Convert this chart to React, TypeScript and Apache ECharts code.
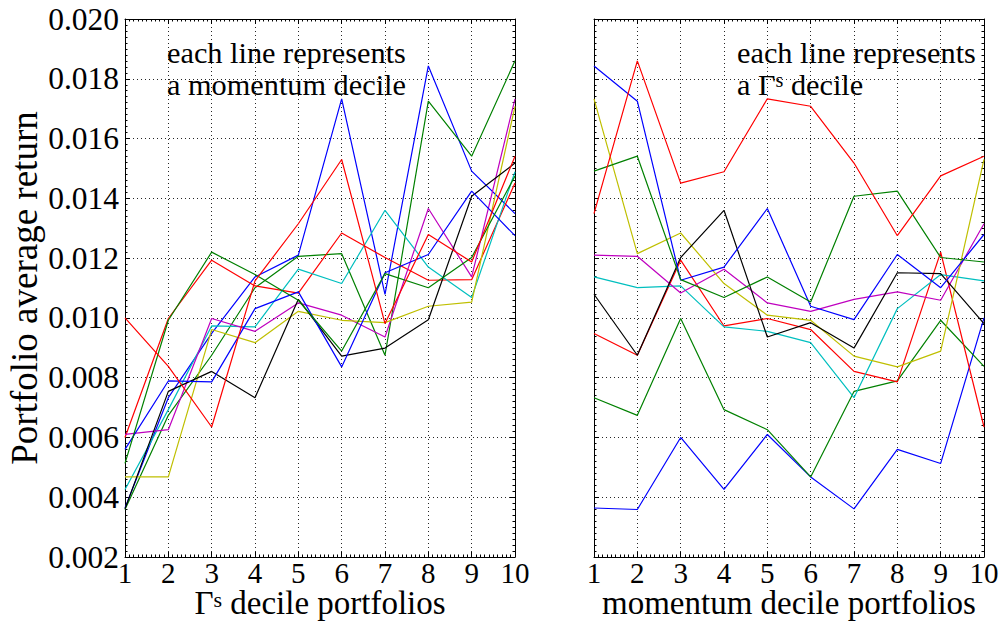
import React, { useEffect, useRef } from "react";
import * as echarts from "echarts";

// x positions (decile numbers)
const deciles = [1, 2, 3, 4, 5, 6, 7, 8, 9, 10];

// Portfolio average return; one array per momentum decile, values across the 10 Γs deciles
const mom1 = [0.00364, 0.00733, 0.00948, 0.01137, 0.0121, 0.01733, 0.01079, 0.01843, 0.01491, 0.01349];
const mom2 = [0.00359, 0.00674, 0.00875, 0.01101, 0.01206, 0.01215, 0.00875, 0.01725, 0.01541, 0.0186];
const mom3 = [0.006, 0.00998, 0.01193, 0.01107, 0.01083, 0.01284, 0.01202, 0.01126, 0.01128, 0.01451];
const mom4 = [0.00426, 0.00693, 0.00973, 0.0097, 0.01163, 0.01115, 0.0136, 0.0117, 0.01068, 0.01489];
const mom5 = [0.0061, 0.00626, 0.00998, 0.00955, 0.0105, 0.01009, 0.00936, 0.01366, 0.01137, 0.01733];
const mom6 = [0.00468, 0.00468, 0.00961, 0.00917, 0.01022, 0.00992, 0.00984, 0.01039, 0.01053, 0.01708];
const mom7 = [0.00361, 0.00754, 0.00821, 0.00733, 0.01062, 0.00872, 0.00899, 0.00994, 0.01407, 0.01518];
const mom8 = [0.0056, 0.00789, 0.00786, 0.01031, 0.01087, 0.00836, 0.01151, 0.01212, 0.01424, 0.01275];
const mom9 = [0.00513, 0.00992, 0.0122, 0.01145, 0.01059, 0.00889, 0.01148, 0.01101, 0.01202, 0.01475];
const mom10 = [0.01, 0.00838, 0.00635, 0.01124, 0.01315, 0.0153, 0.00981, 0.01279, 0.01187, 0.01541];
const momentumRows = [mom1, mom2, mom3, mom4, mom5, mom6, mom7, mom8, mom9, mom10];

// matplotlib classic colour cycle b g r c m y k
const lineColors = ["#0000ff", "#008000", "#ff0000", "#00bfbf", "#bf00bf", "#bfbf00", "#000000", "#0000ff", "#008000", "#ff0000"];

const yMin = 0.002;
const yMax = 0.02;
const yStep = 0.002;

const FONT = '"Liberation Serif", "DejaVu Serif", serif';

export default function App() {
  const ref = useRef<HTMLDivElement>(null);

  useEffect(() => {
    const chart = echarts.init(ref.current!, null, { renderer: "svg" });

    const gridLine = { color: "#000", type: [1, 3] as any, width: 1, opacity: 0.85 };
    const tickStyle = { color: "#000", width: 1 };

    const makeX = (gridIndex: number, position: string, main: boolean, name: string, rich?: any) => ({
      type: "value",
      gridIndex,
      position,
      min: 1,
      max: 10,
      interval: 1,
      axisLine: { show: true, onZero: false, lineStyle: { color: "#000", width: 1 } },
      axisTick: { show: true, inside: true, length: 5, lineStyle: tickStyle },
      minorTick: { show: true, splitNumber: 10, length: 2.5, lineStyle: tickStyle },
      axisLabel: { show: main, color: "#000", fontFamily: FONT, fontSize: 29, margin: 2, lineHeight: 27 },
      splitLine: { show: main, lineStyle: gridLine },
      name: main ? name : "",
      nameLocation: "middle",
      nameGap: 31,
      nameMoveOverlap: false,
      nameTextStyle: { color: "#000", fontFamily: FONT, fontSize: 33, lineHeight: 30, rich },
    });

    const makeY = (gridIndex: number, position: string, main: boolean, labels: boolean, name: string) => ({
      type: "value",
      gridIndex,
      position,
      min: yMin,
      max: yMax,
      interval: yStep,
      axisLine: { show: true, onZero: false, lineStyle: { color: "#000", width: 1 } },
      axisTick: { show: true, inside: true, length: 5, lineStyle: tickStyle },
      minorTick: { show: true, splitNumber: 10, length: 2.5, lineStyle: tickStyle },
      axisLabel: {
        show: labels,
        color: "#000",
        fontFamily: FONT,
        fontSize: 31.5,
        margin: 6,
        formatter: (v: number) => v.toFixed(3),
      },
      splitLine: { show: main, lineStyle: gridLine },
      name,
      nameLocation: "middle",
      nameGap: 82,
      nameRotate: 90,
      nameMoveOverlap: false,
      nameTextStyle: { color: "#000", fontFamily: FONT, fontSize: 37 },
    });

    const supRich = {
      sup: { fontFamily: FONT, fontSize: 22, color: "#000", verticalAlign: "top", lineHeight: 20 },
    };

    const series: any[] = [];
    momentumRows.forEach((row, i) => {
      series.push({
        type: "line",
        xAxisIndex: 0,
        yAxisIndex: 0,
        data: deciles.map((d, j) => [d, row[j]]),
        symbol: "none",
        lineStyle: { width: 1.2, color: lineColors[i] },
        itemStyle: { color: lineColors[i] },
        silent: true,
      });
    });
    deciles.forEach((_, j) => {
      series.push({
        type: "line",
        xAxisIndex: 2,
        yAxisIndex: 2,
        data: deciles.map((d, i) => [d, momentumRows[i][j]]),
        symbol: "none",
        lineStyle: { width: 1.2, color: lineColors[j] },
        itemStyle: { color: lineColors[j] },
        silent: true,
      });
    });

    const annot = (x: number, y: number, text: string) => ({
      type: "text",
      x,
      y,
      silent: true,
      style: {
        text,
        fill: "#000",
        fontFamily: FONT,
        fontSize: 30.3,
        align: "left",
        verticalAlign: "middle",
        textAlign: "left",
        textVerticalAlign: "middle",
        rich: {
          sup: { fontFamily: FONT, fontSize: 20, fill: "#000", verticalAlign: "top", lineHeight: 18 },
        },
      },
    });

    chart.setOption({
      animation: false,
      backgroundColor: "#fff",
      grid: [
        { left: 125, top: 19, width: 390, height: 538, containLabel: false, outerBoundsMode: "none" },
        { left: 594, top: 19, width: 390, height: 538, containLabel: false, outerBoundsMode: "none" },
      ],
      xAxis: [
        makeX(0, "bottom", true, "Γ{sup|s} decile portfolios", supRich),
        makeX(0, "top", false, ""),
        makeX(1, "bottom", true, "momentum decile portfolios"),
        makeX(1, "top", false, ""),
      ],
      yAxis: [
        makeY(0, "left", true, true, "Portfolio average return"),
        makeY(0, "right", false, false, ""),
        makeY(1, "left", true, false, ""),
        makeY(1, "right", false, false, ""),
      ],
      series,
      graphic: [
        annot(167, 53, "each line represents"),
        annot(167, 85, "a momentum decile"),
        annot(737, 53, "each line represents"),
        annot(737, 85, "a Γ{sup|s} decile"),
      ],
    });

    return () => chart.dispose();
  }, []);

  return (
    <div
      ref={ref}
      style={{ position: "absolute", left: 0, top: 0, width: 1002, height: 622, background: "#fff" }}
    />
  );
}
